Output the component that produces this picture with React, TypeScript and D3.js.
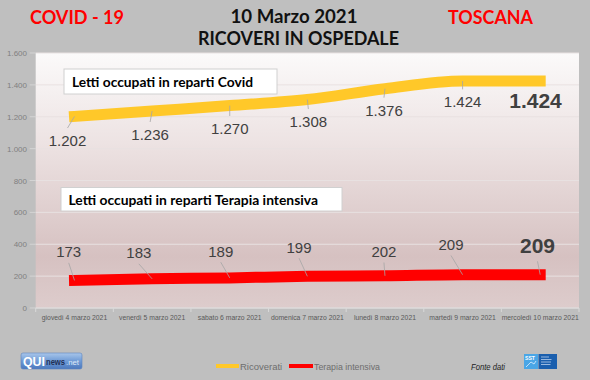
import React from 'react';
import * as d3 from 'd3';

const categories = [
  'giovedì 4 marzo 2021',
  'venerdì 5 marzo 2021',
  'sabato 6 marzo 2021',
  'domenica 7 marzo 2021',
  'lunedì 8 marzo 2021',
  'martedì 9 marzo 2021',
  'mercoledì 10 marzo 2021',
];
const ricoverati = [1202, 1236, 1270, 1308, 1376, 1424, 1424];
const terapiaIntensiva = [173, 183, 189, 199, 202, 209, 209];
const yTicks = [0, 200, 400, 600, 800, 1000, 1200, 1400, 1600];
const seriesNames = ['Ricoverati', 'Terapia intensiva'];

// label nudges (dx, dy from the point) — layout, not data
const yellowLabelNudge = [[-7, 29.6], [-2, 29], [0, 28.4], [1, 27.5], [-1, 27], [0, 26.3], [-4.7, 27.3]];
const redLabelNudge = [[-5.8, -23.1], [-13.3, -20.5], [-9, -21.2], [-8.3, -23.6], [-1, -18.8], [-11.6, -24.7], [-2.7, -21.4]];

const fmt = (v: number) => d3.format(',')(v).replace(/,/g, '.');

const W = 590, H = 380;
const PL = 35.7, PR = 579, PT = 53, PB = 308;

export default function App() {
  const x = d3.scaleBand<string>().domain(categories).range([PL, PR]);
  const y = d3.scaleLinear().domain([0, 1600]).range([PB, PT]);
  const cx = (i: number) => (x(categories[i]) as number) + x.bandwidth() / 2;
  const line = d3.line<number>().x((_, i) => cx(i)).y((d) => y(d)).curve(d3.curveMonotoneX);
  const numFont = '"Liberation Sans", Arial, sans-serif';
  const titleFont = 'Lato, "Liberation Sans", sans-serif';
  const last = categories.length - 1;

  return (
    <svg width={W} height={H} style={{ position: 'absolute', left: 0, top: 0, display: 'block' }}>
      <defs>
        <linearGradient id="plotbg" x1="0" y1="0" x2="0" y2="1">
          <stop offset="0" stopColor="#fbfafa" />
          <stop offset="0.35" stopColor="#ede3e3" />
          <stop offset="0.8" stopColor="#d6c1c1" />
          <stop offset="1" stopColor="#ddcccc" />
        </linearGradient>
        <linearGradient id="qui" x1="0" y1="0" x2="0" y2="1">
          <stop offset="0" stopColor="#a9c6ea" />
          <stop offset="0.5" stopColor="#6f9bd6" />
          <stop offset="1" stopColor="#4b78bd" />
        </linearGradient>
      </defs>
      <rect x={0} y={0} width={W} height={H} fill="#bfbfbf" />

      {/* Titles */}
      <text x={77} y={24} textAnchor="middle" fill="#ff0000" fontFamily={titleFont} fontWeight={700} fontSize={19} textLength={94} lengthAdjust="spacingAndGlyphs">COVID - 19</text>
      <text x={490.5} y={24} textAnchor="middle" fill="#ff0000" fontFamily={titleFont} fontWeight={700} fontSize={19} textLength={85} lengthAdjust="spacingAndGlyphs">TOSCANA</text>
      <text x={294} y={23} textAnchor="middle" fill="#111" fontFamily={titleFont} fontWeight={700} fontSize={19} textLength={127} lengthAdjust="spacingAndGlyphs">10 Marzo 2021</text>
      <text x={298.5} y={45} textAnchor="middle" fill="#111" fontFamily={titleFont} fontWeight={700} fontSize={19} textLength={201} lengthAdjust="spacingAndGlyphs">RICOVERI IN OSPEDALE</text>

      {/* Plot area */}
      <rect x={PL} y={PT} width={PR - PL} height={PB - PT} fill="url(#plotbg)" />
      {yTicks.map((t) => (
        <g key={t}>
          <line x1={PL} x2={PR} y1={y(t)} y2={y(t)} stroke="#e8e1e1" strokeWidth={1} />
          <line x1={PL - 6} x2={PL} y1={y(t)} y2={y(t)} stroke="#d4d4d4" strokeWidth={1} />
          <text x={27} y={y(t) + 3} textAnchor="end" fill="#7f7f7f" fontFamily={numFont} fontSize={8}>{fmt(t)}</text>
        </g>
      ))}
      {/* x axis */}
      <line x1={PL} x2={PR} y1={PB} y2={PB} stroke="#d9d9d9" />
      {categories.concat(['_end']).map((c, i) => {
        const xx = i < categories.length ? (x(c) as number) : PR;
        return <line key={'t' + i} x1={xx} x2={xx} y1={PB} y2={PB + 4} stroke="#d9d9d9" />;
      })}
      {categories.map((c, i) => (
        <text key={c} x={cx(i)} y={320} textAnchor="middle" fill="#595959" fontFamily={numFont} fontSize={6.8}>{c}</text>
      ))}

      {/* Series lines */}
      <path d={line(ricoverati) || ''} fill="none" stroke="#ffc829" strokeWidth={11} strokeLinecap="square" />
      <path d={line(terapiaIntensiva) || ''} fill="none" stroke="#ff0000" strokeWidth={11} strokeLinecap="square" />

      {/* Ricoverati labels */}
      {ricoverati.map((v, i) => {
        const px = cx(i), py = y(v);
        const [dx, dy] = yellowLabelNudge[i];
        const big = i === last;
        return (
          <g key={'r' + i}>
            {!big && <line x1={px} y1={py} x2={px + dx} y2={py + dy - 18} stroke="#a6a6a6" strokeWidth={0.8} />}
            <text x={px + dx} y={py + dy} textAnchor="middle" fill="#404040" fontFamily={numFont} fontWeight={big ? 700 : 400} fontSize={big ? 21 : 15}>{fmt(v)}</text>
          </g>
        );
      })}
      {/* Terapia intensiva labels */}
      {terapiaIntensiva.map((v, i) => {
        const px = cx(i), py = y(v);
        const [dx, dy] = redLabelNudge[i];
        const big = i === last;
        return (
          <g key={'t' + i}>
            <line x1={px + dx} y1={py + dy + (big ? 8 : 5.5)} x2={px} y2={py} stroke="#a6a6a6" strokeWidth={0.8} />
            <text x={px + dx} y={py + dy} textAnchor="middle" fill="#404040" fontFamily={numFont} fontWeight={big ? 700 : 400} fontSize={big ? 21 : 15}>{fmt(v)}</text>
          </g>
        );
      })}

      {/* Text boxes */}
      <rect x={64} y={69} width={213} height={25} fill="#ffffff" stroke="#d0d0d0" strokeWidth={1} />
      <text x={72} y={86.5} fill="#000" fontFamily={titleFont} fontWeight={700} fontSize={14} textLength={181} lengthAdjust="spacingAndGlyphs">Letti occupati in reparti Covid</text>
      <rect x={61} y={187.5} width={281} height={23.5} fill="#ffffff" stroke="#d0d0d0" strokeWidth={1} />
      <text x={68.5} y={205} fill="#000" fontFamily={titleFont} fontWeight={700} fontSize={14} textLength={249.5} lengthAdjust="spacingAndGlyphs">Letti occupati in reparti Terapia intensiva</text>

      {/* Legend */}
      <line x1={216} x2={239} y1={366} y2={366} stroke="#ffc829" strokeWidth={4} />
      <text x={240} y={369.5} fill="#6e6e6e" fontFamily={numFont} fontSize={9.5}>{seriesNames[0]}</text>
      <line x1={289} x2={313} y1={366} y2={366} stroke="#ff0000" strokeWidth={4} />
      <text x={314} y={369.5} fill="#6e6e6e" fontFamily={numFont} fontSize={9.5} textLength={66} lengthAdjust="spacingAndGlyphs">{seriesNames[1]}</text>

      {/* Fonte dati */}
      <text x={471} y={369.5} fill="#222" fontFamily={numFont} fontStyle="italic" fontSize={8.5} textLength={34} lengthAdjust="spacingAndGlyphs">Fonte dati</text>

      {/* QUInews logo */}
      <rect x={21} y={353} width={61} height={16} rx={2} fill="url(#qui)" stroke="#5a83c0" strokeWidth={0.6} />
      <text x={23} y={366} fill="#ffffff" fontFamily={numFont} fontWeight={700} fontSize={13} textLength={22} lengthAdjust="spacingAndGlyphs">QUI</text>
      <text x={46} y={365} fill="#1f2f55" fontFamily={numFont} fontWeight={700} fontSize={8.5} textLength={19} lengthAdjust="spacingAndGlyphs">news</text>
      <text x={66} y={365} fill="#dfe9f7" fontFamily={numFont} fontSize={7} textLength={13} lengthAdjust="spacingAndGlyphs">.net</text>

      {/* SST logo */}
      <rect x={524} y={354} width={14} height={15} fill="#4aa6e6" />
      <rect x={538.5} y={354} width={18.5} height={15} fill="#1a5fae" />
      <text x={525} y={360} fill="#ffffff" fontFamily={numFont} fontWeight={700} fontSize={5.5} textLength={10} lengthAdjust="spacingAndGlyphs">SST</text>
      <path d="M526 367 L531 362 L534 364 L536 361" fill="none" stroke="#dfefff" strokeWidth={0.8} />
      {[357, 359.5, 362, 364.5].map((yy) => (
        <line key={yy} x1={541} x2={549 + (yy % 3)} y1={yy} y2={yy} stroke="#cfe0f5" strokeWidth={0.7} />
      ))}
    </svg>
  );
}
